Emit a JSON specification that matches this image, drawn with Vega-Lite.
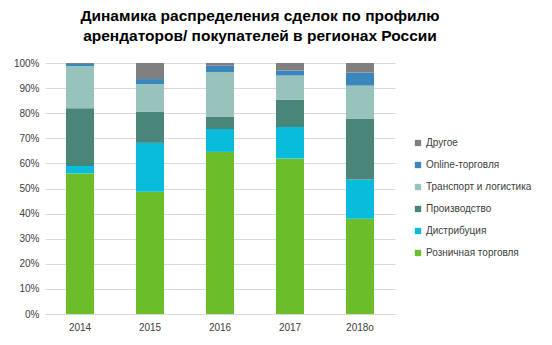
{
  "$schema": "https://vega.github.io/schema/vega-lite/v6.json",
  "autosize": {"type": "none"},
  "padding": {"left": 45, "top": 63, "right": 157, "bottom": 31},
  "width": 350,
  "height": 251,
  "background": "white",
  "title": {
    "text": ["Динамика распределения сделок по профилю", "арендаторов/ покупателей в регионах России"],
    "font": "Liberation Sans",
    "fontSize": 15.5,
    "fontWeight": "bold",
    "color": "#000000",
    "anchor": "middle",
    "frame": "group",
    "dx": 40,
    "offset": 14,
    "lineHeight": 20
  },
  "data": {
    "values": [
      {"year": "2014", "cat": "Розничная торговля", "i": 1, "v": 56},
      {"year": "2014", "cat": "Дистрибуция", "i": 2, "v": 3},
      {"year": "2014", "cat": "Производство", "i": 3, "v": 23},
      {"year": "2014", "cat": "Транспорт и логистика", "i": 4, "v": 16.8},
      {"year": "2014", "cat": "Online-торговля", "i": 5, "v": 0.8},
      {"year": "2014", "cat": "Другое", "i": 6, "v": 0.4},
      {"year": "2015", "cat": "Розничная торговля", "i": 1, "v": 48.7},
      {"year": "2015", "cat": "Дистрибуция", "i": 2, "v": 19.5},
      {"year": "2015", "cat": "Производство", "i": 3, "v": 12.3},
      {"year": "2015", "cat": "Транспорт и логистика", "i": 4, "v": 11.1},
      {"year": "2015", "cat": "Online-торговля", "i": 5, "v": 2},
      {"year": "2015", "cat": "Другое", "i": 6, "v": 6.4},
      {"year": "2016", "cat": "Розничная торговля", "i": 1, "v": 64.6},
      {"year": "2016", "cat": "Дистрибуция", "i": 2, "v": 9.1},
      {"year": "2016", "cat": "Производство", "i": 3, "v": 4.8},
      {"year": "2016", "cat": "Транспорт и логистика", "i": 4, "v": 17.9},
      {"year": "2016", "cat": "Online-торговля", "i": 5, "v": 2.5},
      {"year": "2016", "cat": "Другое", "i": 6, "v": 1.1},
      {"year": "2017", "cat": "Розничная торговля", "i": 1, "v": 61.9},
      {"year": "2017", "cat": "Дистрибуция", "i": 2, "v": 12.6},
      {"year": "2017", "cat": "Производство", "i": 3, "v": 10.8},
      {"year": "2017", "cat": "Транспорт и логистика", "i": 4, "v": 9.7},
      {"year": "2017", "cat": "Online-торговля", "i": 5, "v": 2},
      {"year": "2017", "cat": "Другое", "i": 6, "v": 3},
      {"year": "2018о", "cat": "Розничная торговля", "i": 1, "v": 37.9},
      {"year": "2018о", "cat": "Дистрибуция", "i": 2, "v": 15.7},
      {"year": "2018о", "cat": "Производство", "i": 3, "v": 24.1},
      {"year": "2018о", "cat": "Транспорт и логистика", "i": 4, "v": 13.3},
      {"year": "2018о", "cat": "Online-торговля", "i": 5, "v": 5.2},
      {"year": "2018о", "cat": "Другое", "i": 6, "v": 3.8}
    ]
  },
  "mark": {"type": "bar"},
  "encoding": {
    "x": {
      "field": "year",
      "type": "nominal",
      "sort": null,
      "scale": {"paddingInner": 0.6, "paddingOuter": 0.3},
      "axis": {
        "title": null,
        "labelAngle": 0,
        "labelFont": "Liberation Sans",
        "labelFontSize": 10,
        "labelColor": "#404040",
        "ticks": false,
        "domainColor": "#D9D9D9",
        "labelPadding": 8
      }
    },
    "y": {
      "field": "v",
      "type": "quantitative",
      "stack": "zero",
      "scale": {"domain": [0, 100], "nice": false},
      "axis": {
        "title": null,
        "values": [0, 10, 20, 30, 40, 50, 60, 70, 80, 90, 100],
        "labelExpr": "datum.value + '%'",
        "labelFont": "Liberation Sans",
        "labelFontSize": 10,
        "labelColor": "#404040",
        "domain": false,
        "ticks": false,
        "gridColor": "#D9D9D9",
        "labelPadding": 6
      }
    },
    "color": {
      "field": "cat",
      "type": "nominal",
      "scale": {
        "domain": ["Другое", "Online-торговля", "Транспорт и логистика", "Производство", "Дистрибуция", "Розничная торговля"],
        "range": ["#808080", "#3A87BD", "#98C2BC", "#4A8579", "#0ABCDB", "#6BBD29"]
      },
      "legend": {
        "title": null,
        "orient": "none",
        "legendX": 368,
        "legendY": 75,
        "symbolType": "square",
        "symbolSize": 40,
        "symbolStrokeWidth": 0,
        "labelFont": "Liberation Sans",
        "labelFontSize": 10,
        "labelColor": "#404040",
        "rowPadding": 12,
        "symbolOffset": 0,
        "labelOffset": 3
      }
    },
    "order": {"field": "i", "type": "quantitative", "sort": "ascending"}
  },
  "config": {"view": {"stroke": null}}
}
